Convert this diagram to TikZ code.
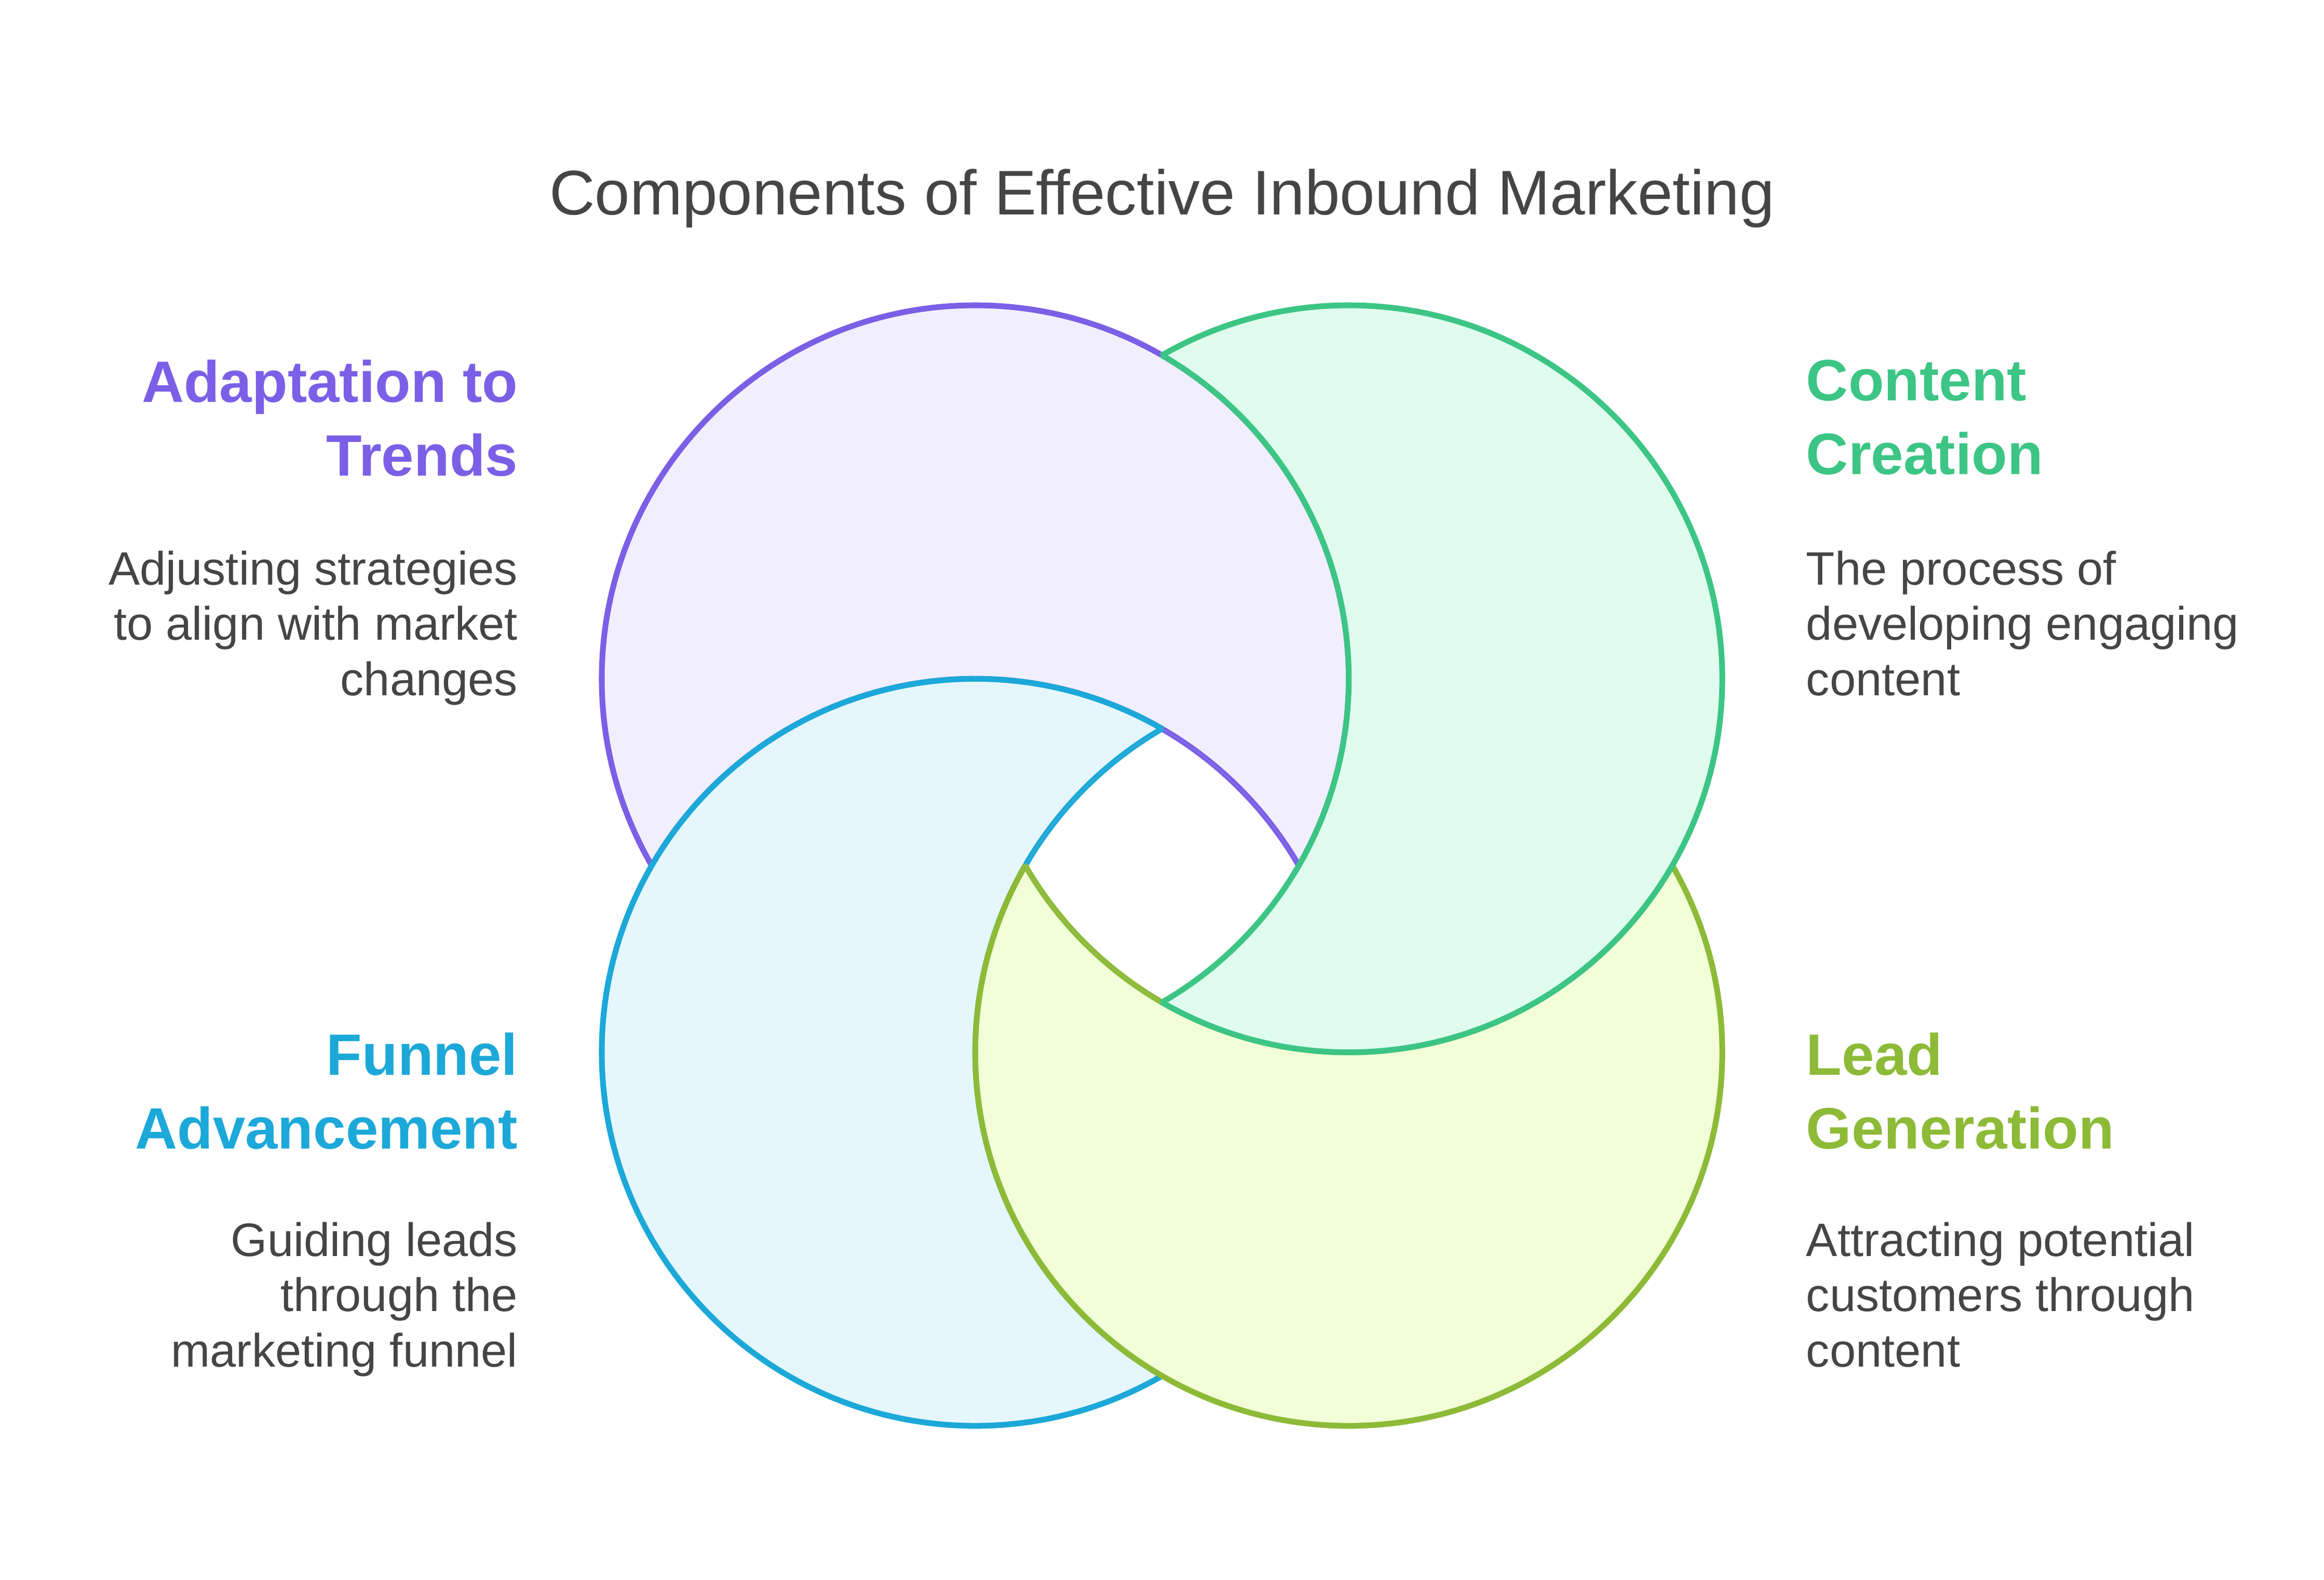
\documentclass[tikz,border=0pt]{standalone}
\usepackage{fontspec}
\setmainfont{Liberation Sans}
\usetikzlibrary{positioning}
\definecolor{trendline}{HTML}{7B5FE6}
\definecolor{trendfill}{HTML}{F1EFFD}
\definecolor{contentline}{HTML}{3CC585}
\definecolor{contentfill}{HTML}{E0FCEF}
\definecolor{funnelline}{HTML}{1CA8D8}
\definecolor{funnelfill}{HTML}{E5F7FD}
\definecolor{leadline}{HTML}{8DBA37}
\definecolor{leadfill}{HTML}{F1FED8}
\definecolor{textgray}{HTML}{454545}
\begin{document}
\begin{tikzpicture}[
        head/.style={font=\fontsize{11.2}{14.2}\selectfont\bfseries, inner sep=0pt},
        desc/.style={font=\fontsize{9}{10.6}\selectfont, text=textgray, inner sep=0pt},
        ring/.style={line width=1.1pt}
    ]
        \useasboundingbox (0,0) rectangle (15.68,10.66);
        \def\rad{2.52}
        \coordinate (trend) at (6.58,6.08);
        \coordinate (content) at (9.10,6.08);
        \coordinate (funnel) at (6.58,3.56);
        \coordinate (lead) at (9.10,3.56);

        % each shape: own circle minus the next one
        \foreach \a/\b/\col in {trend/funnel/trend, funnel/lead/funnel, lead/content/lead, content/trend/content} {
            \begin{scope}
                \clip (\a) circle (\rad);
                \fill[\col fill, even odd rule] (\a) circle (\rad) (\b) circle (\rad);
                \draw[ring, \col line] (\b) circle (\rad);
            \end{scope}
            \begin{scope}[even odd rule]
                \clip (-1,-1) rectangle (17,12) (\b) circle (\rad);
                \draw[ring, \col line] (\a) circle (\rad);
            \end{scope}
        }

        % title
        \node[font=\fontsize{12.1}{15}\selectfont, text=textgray] (title) at (7.84,9.32) {Components of Effective Inbound Marketing};

        % labels
        \node[head, text=trendline, align=right, anchor=north east] (trendhead) at (3.50,8.24) {Adaptation to\\Trends};
        \node[desc, align=right, anchor=north east] (trenddesc) at (3.50,6.95) {Adjusting strategies\\to align with market\\changes};
        \node[head, text=contentline, align=left, anchor=north west] (contenthead) at (12.18,8.24) {Content\\Creation};
        \node[desc, align=left, anchor=north west] (contentdesc) at (12.18,6.95) {The process of\\developing engaging\\content};
        \node[head, text=funnelline, align=right, anchor=north east] (funnelhead) at (3.50,3.70) {Funnel\\Advancement};
        \node[desc, align=right, anchor=north east] (funneldesc) at (3.50,2.42) {Guiding leads\\through the\\marketing funnel};
        \node[head, text=leadline, align=left, anchor=north west] (leadhead) at (12.18,3.70) {Lead\\Generation};
        \node[desc, align=left, anchor=north west] (leaddesc) at (12.18,2.42) {Attracting potential\\customers through\\content};
    \end{tikzpicture}
\end{document}
